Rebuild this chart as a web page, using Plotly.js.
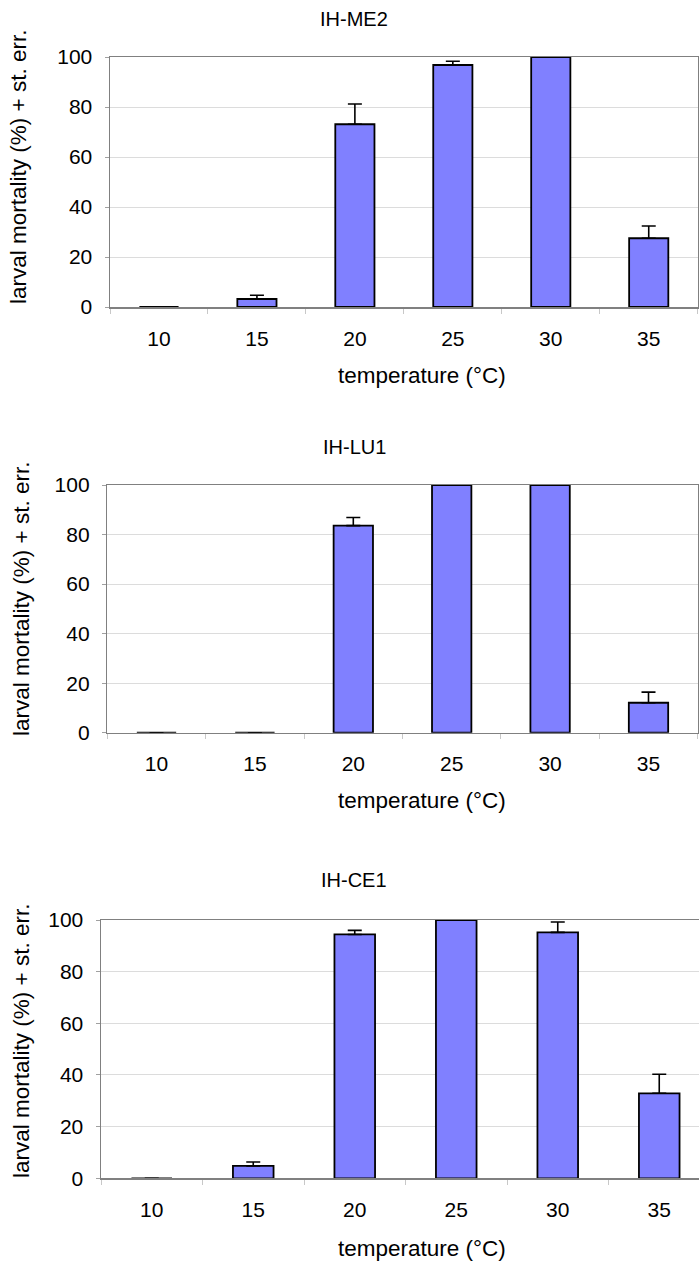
<!DOCTYPE html>
<html>
<head>
<meta charset="utf-8">
<script src="https://cdn.plot.ly/plotly-3.0.1.min.js"></script>
<style>
html, body { margin: 0; padding: 0; overflow: hidden; background: #ffffff; }
#chart { width: 712px; height: 1261px; }
</style>
</head>
<body>
<div id="chart"></div>
<script>
// ---- data ----
const temperatures = ['10', '15', '20', '25', '30', '35'];

const panelTitles = ['IH-ME2', 'IH-LU1', 'IH-CE1'];

const mortalityME2 = [0, 3.2, 73.1, 96.8, 100, 27.5];
const errME2       = [0, 1.5, 8.1, 1.5, 0, 4.9];

const mortalityLU1 = [0, 0, 83.6, 100, 100, 12.1];
const errLU1       = [0, 0, 3.3, 0, 0, 4.3];

const mortalityCE1 = [0, 4.8, 94.4, 100, 95.2, 32.9];
const errCE1       = [0, 1.5, 1.6, 0, 4.0, 7.4];

const yTickVals = [0, 20, 40, 60, 80, 100];

const yTitleText = 'larval mortality (%) + st. err.';
const xTitleText = 'temperature (°C)';

// ---- layout geometry (pixels) ----
const W = 712, H = 1261;
const FONT = 'Liberation Sans, Arial, Helvetica, sans-serif';
const panels = [
  { x0: 110,   x1: 697.7, yTop: 57,  yBot: 307,   title: [354, 19],  ytitle: [19, 167],  xtitle: [422, 375] },
  { x0: 107.3, x1: 697.7, yTop: 485, yBot: 732.7, title: [354, 447], ytitle: [21, 599],  xtitle: [422, 800] },
  { x0: 101,   x1: 710,   yTop: 920, yBot: 1178.3, title: [354, 880], ytitle: [21, 1041], xtitle: [422, 1248] }
];
const series = [
  [mortalityME2, errME2],
  [mortalityLU1, errLU1],
  [mortalityCE1, errCE1]
];

const px = v => v / W;
const py = v => (H - v) / H;

const traces = [];
const layout = {
  width: W, height: H,
  margin: { l: 0, r: 0, t: 0, b: 0 },
  paper_bgcolor: '#ffffff',
  plot_bgcolor: '#ffffff',
  showlegend: false,
  bargap: 0.6,
  font: { family: FONT, size: 21, color: '#000000' },
  annotations: []
};

panels.forEach((p, i) => {
  const n = i + 1;
  const xa = 'x' + (n === 1 ? '' : n);
  const ya = 'y' + (n === 1 ? '' : n);
  traces.push({
    type: 'bar',
    x: temperatures,
    y: series[i][0],
    xaxis: xa, yaxis: ya,
    marker: { color: '#8080ff', line: { color: '#000000', width: 1.8 } },
    error_y: {
      type: 'data', symmetric: false,
      array: series[i][1],
      arrayminus: series[i][1].map(() => 0),
      color: '#000000', thickness: 1.6, width: 7
    },
    cliponaxis: false,
    hoverinfo: 'x+y'
  });
  const xk = 'xaxis' + (n === 1 ? '' : n);
  const yk = 'yaxis' + (n === 1 ? '' : n);
  layout[xk] = {
    domain: [px(p.x0), px(p.x1)],
    anchor: ya,
    type: 'category',
    tickson: 'boundaries',
    ticks: 'outside', ticklen: 5, tickwidth: 1, tickcolor: '#c8c8c8',
    showgrid: false, zeroline: false,
    showline: true, mirror: true, linecolor: '#808080', linewidth: 1.5,
    tickfont: { family: FONT, size: 21, color: '#000000' },
    ticklabelstandoff: 12,
    fixedrange: true
  };
  layout[yk] = {
    domain: [py(p.yBot), py(p.yTop)],
    anchor: xa,
    range: [0, 100],
    tickmode: 'array', tickvals: yTickVals, ticktext: yTickVals.map(String),
    ticks: 'outside', ticklen: 4, tickwidth: 1, tickcolor: '#a0a0a0',
    showgrid: true, gridcolor: '#dcdcdc', gridwidth: 1,
    zeroline: false,
    showline: true, mirror: true, linecolor: '#808080', linewidth: 1.5,
    tickfont: { family: FONT, size: 21, color: '#000000' },
    ticklabelstandoff: 8,
    fixedrange: true
  };
  layout.annotations.push(
    { text: panelTitles[i], xref: 'paper', yref: 'paper', x: px(p.title[0]), y: py(p.title[1]),
      xanchor: 'center', yanchor: 'middle', showarrow: false,
      font: { family: FONT, size: 20, color: '#000000' } },
    { text: yTitleText, xref: 'paper', yref: 'paper', x: px(p.ytitle[0]), y: py(p.ytitle[1]),
      xanchor: 'center', yanchor: 'middle', showarrow: false, textangle: -90,
      font: { family: FONT, size: 22.5, color: '#000000' } },
    { text: xTitleText, xref: 'paper', yref: 'paper', x: px(p.xtitle[0]), y: py(p.xtitle[1]),
      xanchor: 'center', yanchor: 'middle', showarrow: false,
      font: { family: FONT, size: 22.5, color: '#000000' } }
  );
});

Plotly.newPlot('chart', traces, layout, { displayModeBar: false, staticPlot: true });
</script>
</body>
</html>
